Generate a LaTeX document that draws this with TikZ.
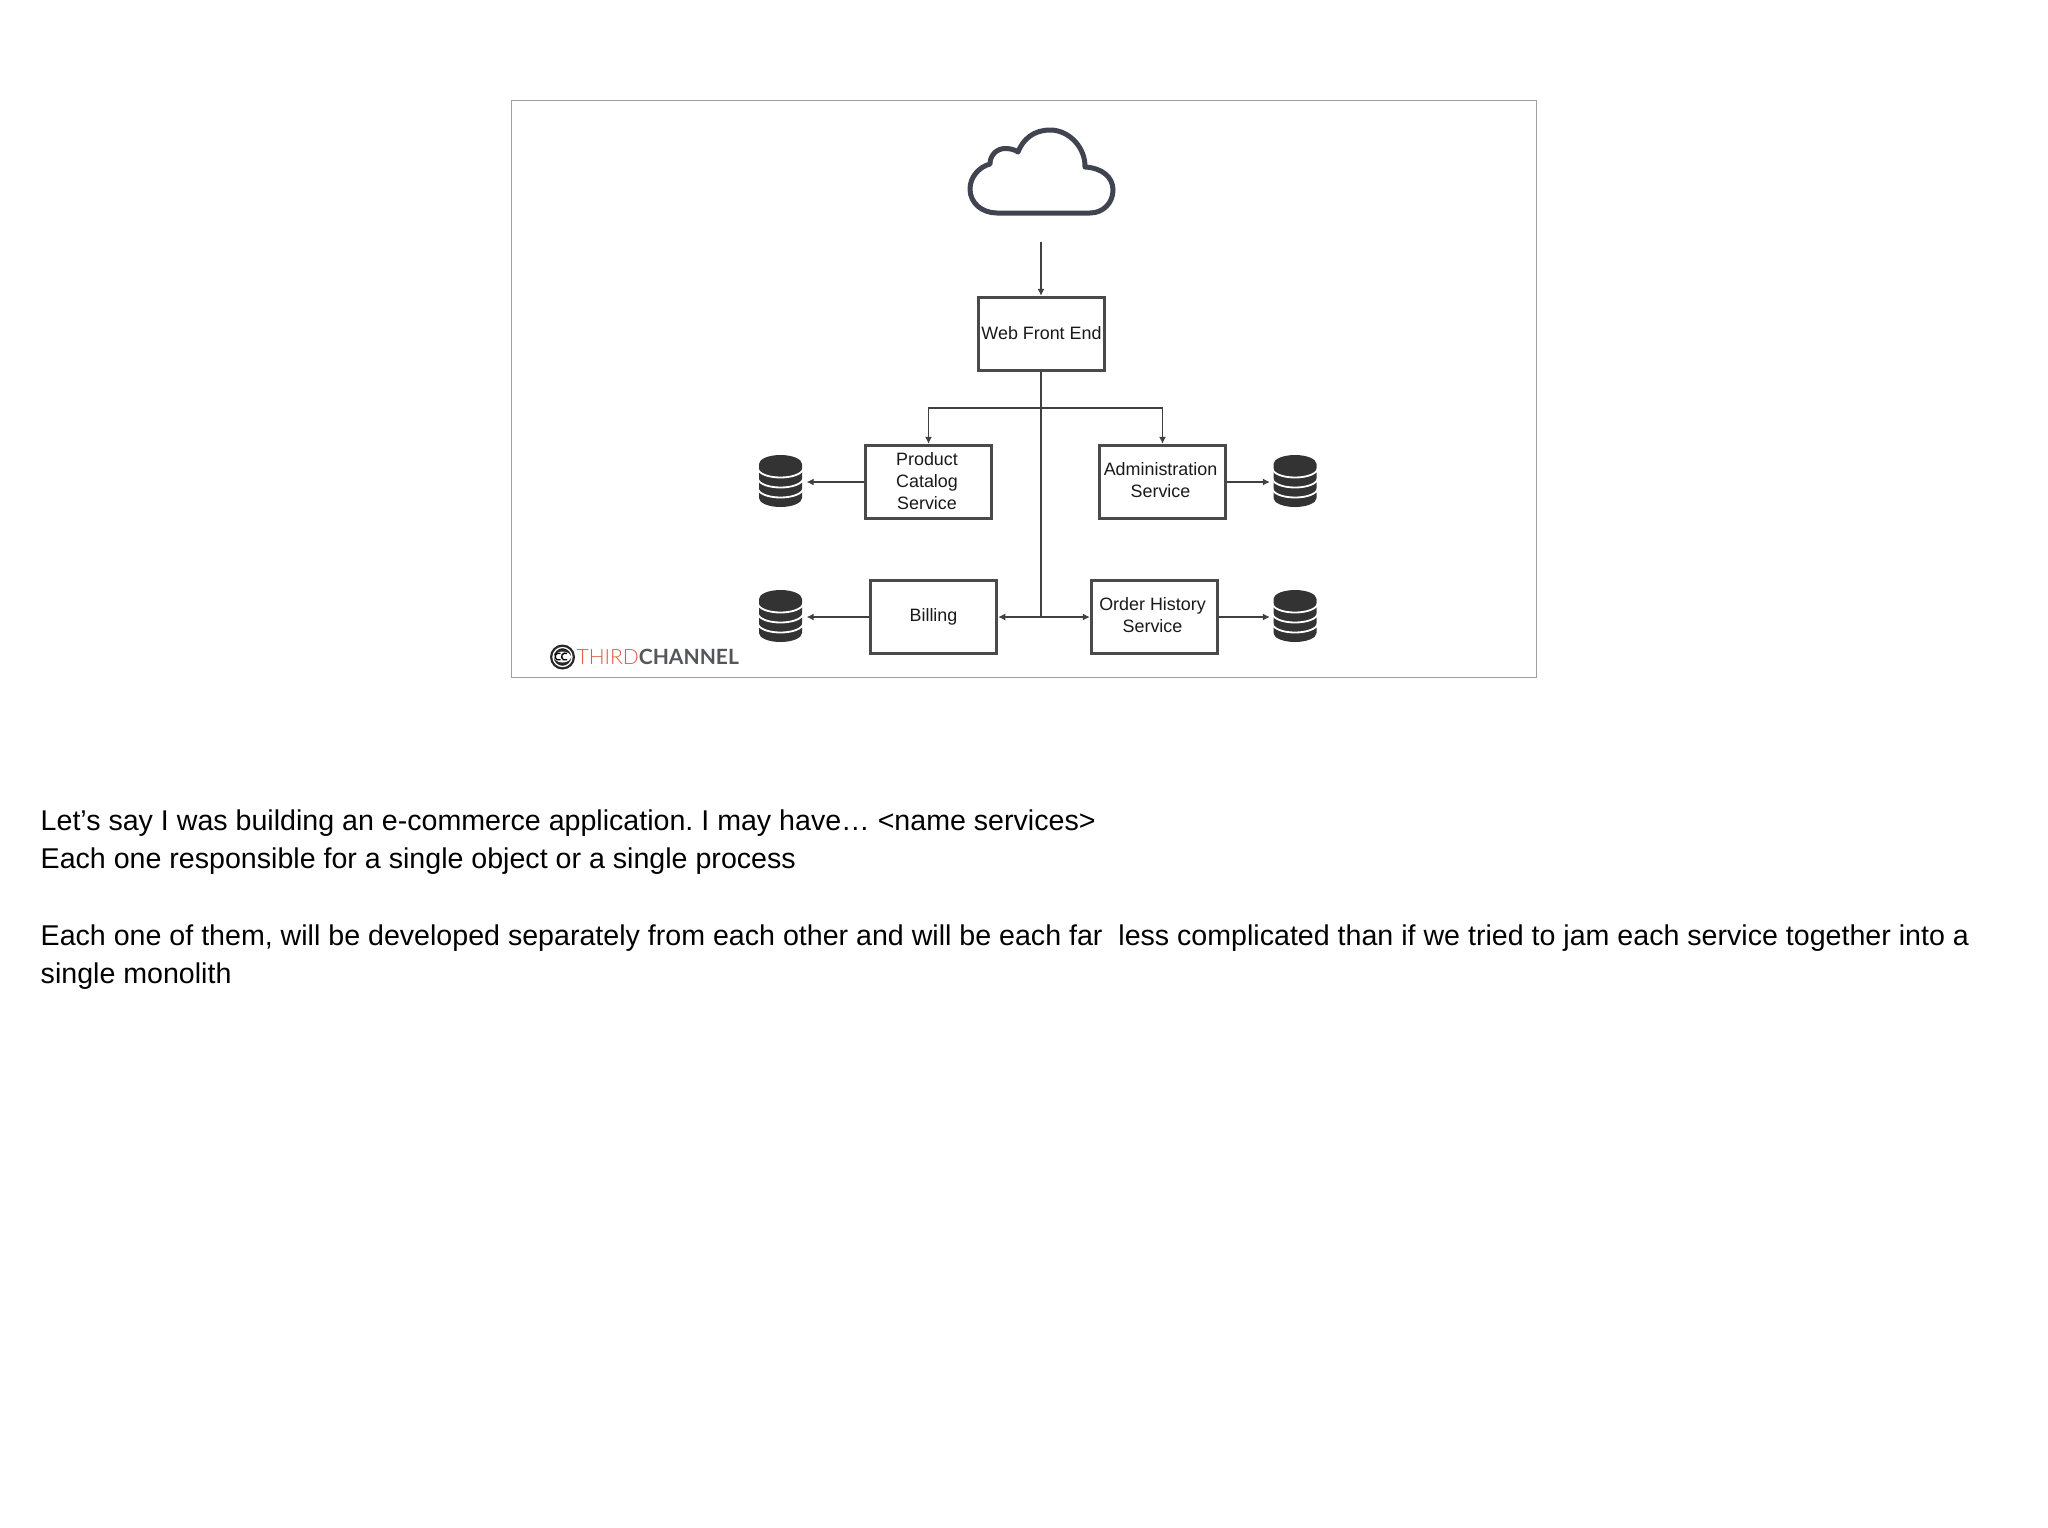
\documentclass[tikz,border=0pt]{standalone}
\usepackage{fontspec}
\setmainfont{Liberation Sans}
\newfontfamily\logolight{Lato Light}
\newfontfamily\logoreg{Lato Bold}
\usetikzlibrary{arrows.meta,calc}
\definecolor{boxc}{HTML}{4A4A4A}
\definecolor{dbc}{HTML}{333333}
\definecolor{cloudc}{HTML}{3F4450}
\definecolor{framec}{HTML}{A0A0A0}
\definecolor{thirdc}{HTML}{DE5A3E}
\definecolor{chanc}{HTML}{55565A}
\tikzset{
  svc/.style={draw=boxc,line width=3pt,minimum width=126.5pt,minimum height=73.5pt,inner sep=0pt,align=center,
    font=\fontsize{17.9}{22}\selectfont,text=black!90},
  dbbox/.style={minimum width=44pt,minimum height=52pt,inner sep=0pt},
  conn/.style={draw=black!75,line width=1.05pt},
  arr/.style={conn,-{Latex[length=7pt,width=7pt]}},
  darr/.style={conn,{Latex[length=7pt,width=7pt]}-{Latex[length=7pt,width=7pt]}},
}
\newcommand{\dbdraw}[1]{%
  \begin{scope}[shift={(#1.center)}]
    \fill[dbc] (-21.5,-17) arc[start angle=180,end angle=360,x radius=21.5,y radius=9]
      -- (21.5,17) arc[start angle=0,end angle=180,x radius=21.5,y radius=9] -- cycle;
    \foreach \o in {-12.5,-2.5,7.5}{
      \draw[white,line width=1.8pt] (-22.5,\o) arc[start angle=180,end angle=0,x radius=22.5,y radius=9];
    }
  \end{scope}}
\begin{document}
\frenchspacing
\begin{tikzpicture}[x=1pt,y=-1pt]
\useasboundingbox (0,0) rectangle (2048,1527);
\node[draw=framec,line width=1.5pt,minimum width=1025pt,minimum height=577pt,inner sep=0pt] (frame) at (1024,389) {};
% cloud
\node[minimum width=147pt,minimum height=87pt,inner sep=0pt] (cloud) at (1041,171) {};
\draw[cloudc,line width=5pt,line join=round] (997,213) -- (1090,213)
  .. controls (1103,213) and (1113,203) .. (1113,190)
  .. controls (1113,177) and (1102,168) .. (1085,167)
  .. controls (1085.5,148) and (1069.5,130) .. (1050,130)
  .. controls (1034,130) and (1023,139) .. (1018,152)
  .. controls (1014.5,149.5) and (1010,148.5) .. (1005,148.5)
  .. controls (997,148.5) and (990,155) .. (990,164)
  .. controls (979,167) and (970,177) .. (970,189)
  .. controls (970,203) and (982,213) .. (997,213) -- cycle;
% boxes
\node[svc,text depth=2.6pt] (web) at (1041.5,334) {Web Front End};
\node[svc,text depth=2.5pt] (prod) at (928.5,482) {\hspace*{-3pt}Product\\\hspace*{-3pt}Catalog\\\hspace*{-3pt}Service};
\node[svc,text depth=3pt] (admin) at (1162.5,482) {\hspace*{-4pt}Administration\\\hspace*{-4pt}Service};
\node[svc] (bill) at (933.5,617) {Billing};
\node[svc,text depth=3pt] (order) at (1154.5,617) {\hspace*{-4pt}Order History\\\hspace*{-4pt}Service};
% databases
\node[dbbox] (db1) at (780.5,481) {};
\node[dbbox] (db2) at (1295,481) {};
\node[dbbox] (db3) at (780.5,616) {};
\node[dbbox] (db4) at (1295,616) {};
\dbdraw{db1}\dbdraw{db2}\dbdraw{db3}\dbdraw{db4}
% connectors
\coordinate (top) at (1041,242);
\coordinate (jun) at (1041,408);
\coordinate (hub) at (1041,617);
\draw[arr] (top) -- (top |- web.north);
\draw[conn] (web.south -| top) -- (hub);
\draw[arr] (jun) -| (prod.north);
\draw[arr] (jun) -| (admin.north);
\draw[darr] (bill.east) -- (order.west);
\draw[arr] (prod.west) -- ($(db1.east |- prod.west)+(4,0)$);
\draw[arr] (bill.west) -- ($(db3.east |- bill.west)+(4,0)$);
\draw[arr] (admin.east) -- ($(db2.west |- admin.east)+(-3,0)$);
\draw[arr] (order.east) -- ($(db4.west |- order.east)+(-3,0)$);
% logo
\node[circle,fill=black!85,minimum size=25pt,inner sep=0pt] (logo) at (562.5,657) {};
\draw[white,line width=1.3pt] (logo) circle (9.5);
\fill[white] (logo) ellipse (8.5 and 5.5);
\draw[black,line width=1.4pt] (560.5,653.5) arc[start angle=-60,end angle=-300,radius=3.6];
\draw[black,line width=1.4pt] (567,653.5) arc[start angle=-60,end angle=-300,radius=3.6];
\node[anchor=west,inner sep=0pt,font=\fontsize{21}{24}\selectfont] (logot) at (576.5,657)
  {\color{thirdc}\logolight THIRD\color{chanc}\logoreg CHANNEL};
% text
\node[anchor=north west,inner sep=0pt,align=left,font=\fontsize{28.6}{38.3}\selectfont,text=black] (body) at (40.5,809.5) {%
Let’s say I was building an e-commerce application. I may have… <name services>\\
Each one responsible for a single object or a single process\\[38.3pt]
Each one of them, will be developed separately from each other and will be each far\ \ less complicated than if we tried to jam each service together into a\\
single monolith};
\end{tikzpicture}
\end{document}
